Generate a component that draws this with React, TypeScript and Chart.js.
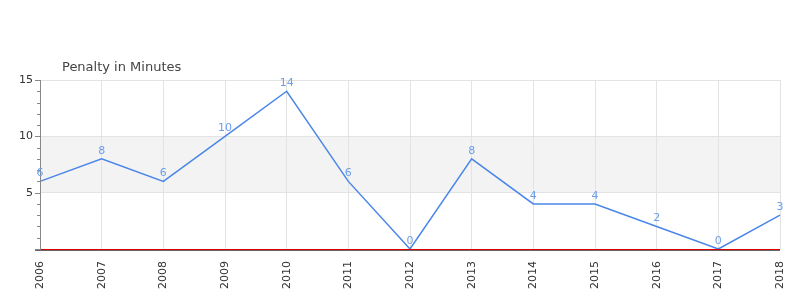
import React, { useEffect, useRef } from "react";
import { Chart, registerables } from "chart.js";

Chart.register(...registerables);

const categories = ["2006", "2007", "2008", "2009", "2010", "2011", "2012", "2013", "2014", "2015", "2016", "2017", "2018"];
const penaltyMinutes = [6, 8, 6, 10, 14, 6, 0, 8, 4, 4, 2, 0, 3];
const chartTitle = "Penalty in Minutes";
const bandRange = [5, 10];
const yMax = 15;

const FONT = "'DejaVu Sans', Verdana, sans-serif";

const customPlugin = {
  id: "custom",
  beforeDraw(chart: any) {
    const { ctx, chartArea, scales } = chart;
    const y = scales.y;
    const top = y.getPixelForValue(bandRange[1]);
    const bot = y.getPixelForValue(bandRange[0]);
    ctx.save();
    ctx.fillStyle = "#f3f3f3";
    ctx.fillRect(chartArea.left, top, chartArea.right - chartArea.left, bot - top);
    ctx.restore();
  },
  afterDraw(chart: any) {
    const { ctx, chartArea, scales } = chart;
    const y = scales.y;
    ctx.save();
    // title
    ctx.font = `13px ${FONT}`;
    ctx.fillStyle = "#444444";
    ctx.textAlign = "left";
    ctx.textBaseline = "alphabetic";
    ctx.fillText(chartTitle, chartArea.left + 22, chartArea.top - 9);

    // y axis line
    ctx.fillStyle = "#888888";
    ctx.fillRect(Math.round(chartArea.left), chartArea.top, 1, chartArea.bottom - chartArea.top + 1);
    // y ticks
    for (let v = 0; v <= yMax; v++) {
      const py = Math.round(y.getPixelForValue(v));
      const len = v % 5 === 0 ? 5 : 3;
      ctx.fillRect(Math.round(chartArea.left) - len, py, len, 1);
    }
    // baseline lines
    const p0 = Math.round(y.getPixelForValue(0));
    ctx.fillStyle = "#666666";
    ctx.fillRect(Math.round(chartArea.left) - 5, p0 + 1, chartArea.right - chartArea.left + 5, 1);
    ctx.fillStyle = "#dd0000";
    ctx.fillRect(Math.round(chartArea.left) + 1, p0, chartArea.right - chartArea.left - 1, 1);

    // data labels
    const meta = chart.getDatasetMeta(0);
    ctx.font = `11px ${FONT}`;
    ctx.fillStyle = "#6d9eeb";
    ctx.textAlign = "center";
    ctx.textBaseline = "alphabetic";
    meta.data.forEach((pt: any, i: number) => {
      ctx.fillText(String(penaltyMinutes[i]), pt.x, pt.y - 5);
    });
    ctx.restore();
  },
};

export default function App() {
  const ref = useRef<HTMLCanvasElement>(null);
  useEffect(() => {
    document.body.style.margin = "0";
    const chart = new Chart(ref.current!, {
      type: "line",
      data: {
        labels: categories,
        datasets: [
          {
            data: penaltyMinutes,
            borderColor: "#4a86e8",
            borderWidth: 1.5,
            pointRadius: 0,
            tension: 0,
            fill: false,
          },
        ],
      },
      options: {
        responsive: false,
        animation: false,
        layout: { padding: { top: 80, right: 20, left: 0, bottom: 0 } },
        plugins: { legend: { display: false }, title: { display: false }, tooltip: { enabled: false } },
        scales: {
          x: {
            offset: false,
            border: { display: false },
            grid: { color: "#e3e3e3", drawTicks: false },
            ticks: {
              minRotation: 90,
              maxRotation: 90,
              padding: 12,
              autoSkip: false,
              color: "#333333",
              font: { family: FONT, size: 11 },
            },
            afterFit(scale: any) {
              scale.height = 51;
              scale.paddingLeft = 0;
              scale.paddingRight = 0;
            },
          },
          y: {
            min: 0,
            max: yMax,
            border: { display: false },
            grid: {
              drawTicks: false,
              color: (c: any) => (c.tick && c.tick.value % 5 === 0 && c.tick.value > 0 ? "#e3e3e3" : "rgba(0,0,0,0)"),
            },
            ticks: {
              stepSize: 1,
              autoSkip: false,
              padding: 7,
              color: "#333333",
              font: { family: FONT, size: 11 },
              callback: (v: any) => (v % 5 === 0 && v > 0 ? String(v) : ""),
            },
            afterFit(scale: any) {
              scale.width = 40;
              scale.paddingTop = 0;
              scale.paddingBottom = 0;
            },
          },
        },
      },
      plugins: [customPlugin],
    });
    return () => chart.destroy();
  }, []);
  return (
    <div style={{ width: 800, height: 300 }}>
      <canvas ref={ref} width={800} height={300} />
    </div>
  );
}
